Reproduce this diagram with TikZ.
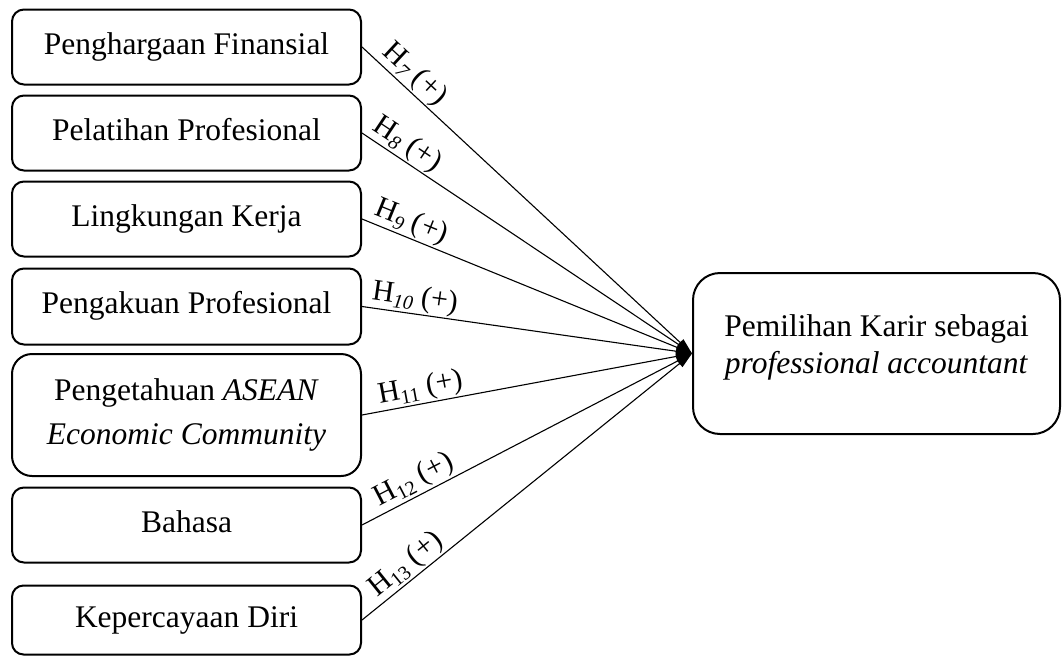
\documentclass[tikz,border=0pt]{standalone}
\usepackage{fontspec}
\setmainfont{Liberation Serif}
\usetikzlibrary{arrows.meta}
\newcommand{\hsub}[1]{\raisebox{-5pt}{\fontsize{20}{20}\selectfont #1}}
\tikzset{
  box/.style={draw, line width=2pt, rounded corners=12pt, minimum width=349pt,
    minimum height=75pt, inner sep=0pt, align=center,
    font=\fontsize{31.5}{37}\selectfont, text height=21.5pt, text depth=6.8pt},
  conn/.style={line width=1.1pt, -{Triangle[length=16pt,width=9pt]}},
  hlab/.style={sloped, above, inner sep=1.5pt, font=\fontsize{30}{30}\selectfont},
}
\begin{document}
\begin{tikzpicture}[x=1pt,y=-1pt]
\useasboundingbox (0,0) rectangle (1062,656);
\node[box] (b1) at (186.5,47) {Penghargaan Finansial};
\node[box] (b2) at (186.5,133) {Pelatihan Profesional};
\node[box] (b3) at (186.5,219) {Lingkungan Kerja};
\node[box, minimum height=76pt] (b4) at (186.5,306.5) {Pengakuan Profesional};
\node[box, minimum height=122pt, rounded corners=20pt, text height={}, text depth={},
  font=\fontsize{31.5}{44.5}\selectfont] (b5) at (186.5,415)
  {Pengetahuan \textit{ASEAN}\\\textit{Economic Community}};
\node[box] (b6) at (186.5,525) {Bahasa};
\node[box, minimum height=69pt, rounded corners=11.5pt] (b7) at (186.5,620) {Kepercayaan Diri};
\node[box, minimum width=367pt, minimum height=161pt, rounded corners=27pt,
  text height={}, text depth=18pt] (R) at (876.5,353.5)
  {Pemilihan Karir sebagai\\\textit{professional accountant}};
\draw[conn] (b1.east) -- node[hlab, pos=0.127] {H\hsub{\textit{7}} (+)} (R.west);
\draw[conn] (b2.east) -- node[hlab, pos=0.111] {H\hsub{\textit{8}} (+)} (R.west);
\draw[conn] (b3.east) -- node[hlab, pos=0.132] {H\hsub{\textit{9}} (+)} (R.west);
\draw[conn] (b4.east) -- node[hlab, pos=0.154] {H\hsub{\textit{10}} (+)} (R.west);
\draw[conn] (b5.east) -- node[hlab, pos=0.186] {H\hsub{11} (+)} (R.west);
\draw[conn] (b6.east) -- node[hlab, pos=0.180] {H\hsub{12} (+)} (R.west);
\draw[conn] (b7.east) -- node[hlab, pos=0.163] {H\hsub{13} (+)} (R.west);
\end{tikzpicture}
\end{document}
